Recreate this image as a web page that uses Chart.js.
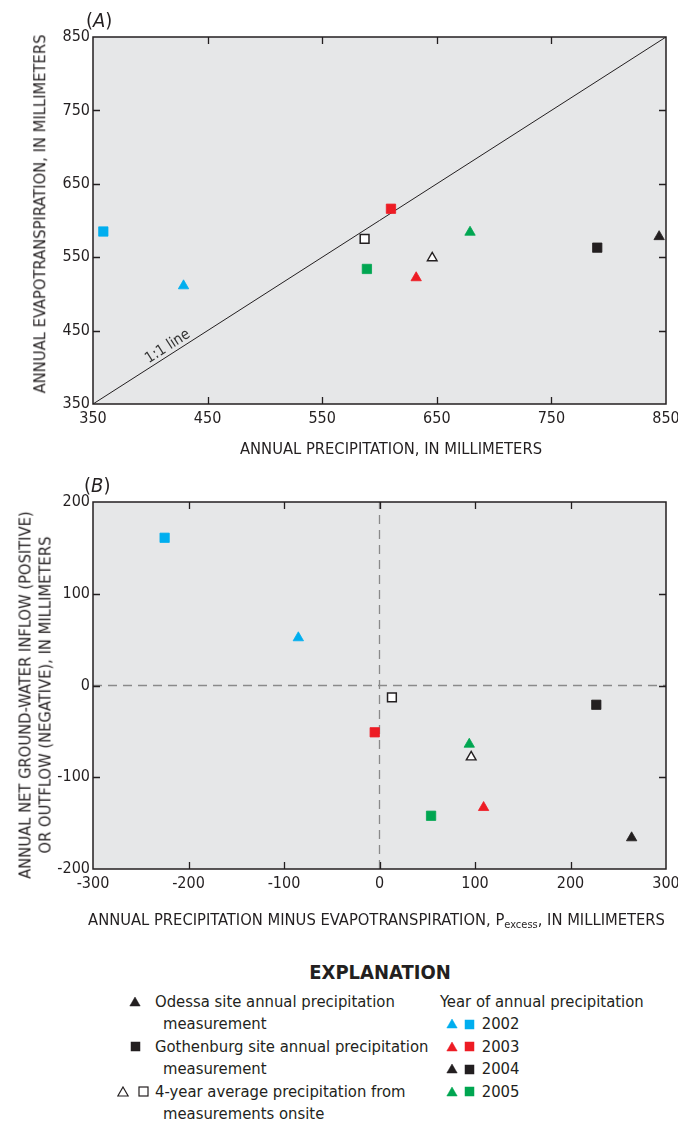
<!DOCTYPE html>
<html><head><meta charset="utf-8">
<script src="https://cdn.jsdelivr.net/npm/chart.js@4.4.1/dist/chart.umd.min.js"></script>
<style>
html,body{margin:0;padding:0;background:#fff;}
#wrap{position:relative;width:678px;height:1124px;overflow:hidden;font-family:'Liberation Sans Narrow','DejaVu Sans Condensed',Roboto,sans-serif;color:#231f20;}
canvas{position:absolute;left:0;}
.t{position:absolute;white-space:nowrap;font-size:16.5px;line-height:22px;}
.ax{position:absolute;white-space:nowrap;font-size:16.4px;line-height:19.5px;transform:translate(-50%,-50%);text-align:center;}
.axv{transform:translate(-50%,-50%) rotate(-90deg);}
.m{position:absolute;}
</style></head><body><div id="wrap">
<canvas id="cA" width="678" height="460" style="top:0px;width:678px;height:460px"></canvas>
<canvas id="cB" width="678" height="480" style="top:460px;width:678px;height:480px"></canvas>
<div class="t" style="left:86px;top:8px;font-size:20px;line-height:24px">(<i>A</i>)</div>
<div class="t" style="left:84px;top:473px;font-size:20px;line-height:24px">(<i>B</i>)</div>
<div class="ax" style="left:391px;top:448.5px">ANNUAL PRECIPITATION, IN MILLIMETERS</div>
<div class="ax axv" style="left:40px;top:213.5px">ANNUAL EVAPOTRANSPIRATION, IN MILLIMETERS</div>
<div class="ax axv" style="left:35px;top:695px">ANNUAL NET GROUND-WATER INFLOW (POSITIVE)<br>OR OUTFLOW (NEGATIVE), IN MILLIMETERS</div>
<div class="ax" style="left:376.5px;top:922px">ANNUAL PRECIPITATION MINUS EVAPOTRANSPIRATION, P<sub style="font-size:11px;vertical-align:-3px">excess</sub>, IN MILLIMETERS</div>
<div id="legend"></div>
</div>
<script>
// ---------------- DATA ----------------
const years = ['2002', '2003', '2004', '2005'];
// Panel A: annual precipitation (x) vs annual evapotranspiration (y), mm
const odessaPrecip = [429, 632, 844, 679];
const odessaET = [511, 522, 578, 584];
const gothenburgPrecip = [359, 610, 790, 589];
const gothenburgET = [585, 616, 563, 534];
const avgOdessaA = [646, 549];      // [precip, ET]
const avgGothenburgA = [587, 575];  // [precip, ET]
const oneToOne = [350, 850];
// Panel B: Pexcess (x) vs net ground-water inflow/outflow (y), mm
const odessaPexcess = [-85, 109, 264, 94];
const odessaGW = [52, -133, -166, -64];
const gothenburgPexcess = [-225, -5, 227, 54];
const gothenburgGW = [161, -51, -21, -142];
const avgOdessaB = [96, -78];
const avgGothenburgB = [13, -13];
// Axis tick values
const ticksA = [350, 450, 550, 650, 750, 850];
const ticksBx = [-300, -200, -100, 0, 100, 200, 300];
const ticksBy = [-200, -100, 0, 100, 200];

// ---------------- STYLE ----------------
const yearColors = ['#00aeef', '#ed1c24', '#231f20', '#00a651'];
const FONT = "'Liberation Sans Narrow','DejaVu Sans Condensed',Roboto,sans-serif";
const INK = '#231f20';

const pts = (xs, ys) => xs.map((v, i) => ({x: v, y: ys[i]}));

const framePlugin = {
  id: 'frame',
  beforeDraw(chart) {
    const {ctx, chartArea: a} = chart;
    ctx.save();
    ctx.fillStyle = '#e6e7e8';
    ctx.fillRect(a.left, a.top, a.right - a.left, a.bottom - a.top);
    ctx.restore();
  },
  afterDraw(chart) {
    const {ctx, chartArea: a, scales: {x, y}} = chart;
    ctx.save();
    ctx.strokeStyle = INK;
    ctx.lineWidth = 1.3;
    ctx.beginPath();
    const L = 7;
    x.ticks.forEach(t => {
      const p = Math.round(x.getPixelForValue(t.value)) + 0.5;
      if (p <= a.left + 1 || p >= a.right - 1) return;
      ctx.moveTo(p, a.top); ctx.lineTo(p, a.top + L);
      ctx.moveTo(p, a.bottom); ctx.lineTo(p, a.bottom - L);
    });
    y.ticks.forEach(t => {
      const p = Math.round(y.getPixelForValue(t.value)) + 0.5;
      if (p <= a.top + 1 || p >= a.bottom - 1) return;
      ctx.moveTo(a.left, p); ctx.lineTo(a.left + L, p);
      ctx.moveTo(a.right, p); ctx.lineTo(a.right - L, p);
    });
    ctx.stroke();
    ctx.lineWidth = 1.5;
    ctx.strokeRect(a.left, a.top, a.right - a.left, a.bottom - a.top);
    const lab = chart.options.plugins.frame && chart.options.plugins.frame.lineLabel;
    if (lab) {
      const x1 = x.getPixelForValue(oneToOne[0]), y1 = y.getPixelForValue(oneToOne[0]);
      const x2 = x.getPixelForValue(oneToOne[1]), y2 = y.getPixelForValue(oneToOne[1]);
      const ang = Math.atan2(y2 - y1, x2 - x1);
      const px = x.getPixelForValue(lab.at), py = y.getPixelForValue(lab.at);
      ctx.translate(px + Math.sin(ang) * lab.off, py - Math.cos(ang) * lab.off);
      ctx.rotate(ang);
      ctx.fillStyle = '#333';
      ctx.font = '15px ' + FONT;
      ctx.textAlign = 'center';
      ctx.textBaseline = 'middle';
      ctx.fillText(lab.text, 0, 0);
    }
    ctx.restore();
  }
};

function baseScale(min, max, vals, axis, fitSize) {
  return {
    type: 'linear', min, max,
    afterBuildTicks: sc => { sc.ticks = vals.map(v => ({value: v})); },
    ticks: Object.assign({callback: v => v, color: INK, font: {family: FONT, size: 16}},
      axis === 'x' ? {padding: 5, maxRotation: 0} : {padding: 3}),
    grid: {display: false, drawTicks: false},
    border: {display: false},
    afterFit: sc => {
      if (axis === 'x') { sc.height = fitSize; sc.paddingLeft = 0; sc.paddingRight = 0; }
      else { sc.width = fitSize; sc.paddingTop = 0; sc.paddingBottom = 0; }
    }
  };
}

function markerSets(xsO, ysO, xsG, ysG, avgO, avgG) {
  return [
    {label: 'Odessa', data: pts(xsO, ysO), pointStyle: 'triangle', pointRadius: 6,
     pointBackgroundColor: yearColors, pointBorderColor: yearColors, pointBorderWidth: 0.8, order: 0},
    {label: 'Gothenburg', data: pts(xsG, ysG), pointStyle: 'rect', pointRadius: 6.6,
     pointBackgroundColor: yearColors, pointBorderColor: yearColors, pointBorderWidth: 0.8, order: 0},
    {label: 'Avg Odessa', data: [{x: avgO[0], y: avgO[1]}], pointStyle: 'triangle', pointRadius: 5.6,
     pointBackgroundColor: '#ffffff', pointBorderColor: INK, pointBorderWidth: 1.4, order: 0},
    {label: 'Avg Gothenburg', data: [{x: avgG[0], y: avgG[1]}], pointStyle: 'rect', pointRadius: 6.2,
     pointBackgroundColor: '#ffffff', pointBorderColor: INK, pointBorderWidth: 1.5, order: 0},
  ];
}

const common = {
  responsive: false, animation: false, devicePixelRatio: 1,
  plugins: {legend: {display: false}, tooltip: {enabled: false}},
};

new Chart(document.getElementById('cA'), {
  type: 'scatter',
  data: {datasets: [
    ...markerSets(odessaPrecip, odessaET, gothenburgPrecip, gothenburgET, avgOdessaA, avgGothenburgA),
    {label: '1:1 line', data: pts(oneToOne, oneToOne), showLine: true, pointRadius: 0,
     borderColor: INK, borderWidth: 1, order: 10}
  ]},
  options: Object.assign({}, common, {
    layout: {padding: {left: 0, right: 12, top: 37, bottom: 0}},
    plugins: Object.assign({}, common.plugins, {frame: {lineLabel: {text: '1:1 line', at: 419, off: 8}}}),
    scales: {
      x: baseScale(350, 850, ticksA, 'x', 56),
      y: baseScale(350, 850, ticksA, 'y', 93)
    }
  }),
  plugins: [framePlugin]
});

new Chart(document.getElementById('cB'), {
  type: 'scatter',
  data: {datasets: [
    ...markerSets(odessaPexcess, odessaGW, gothenburgPexcess, gothenburgGW, avgOdessaB, avgGothenburgB),
    {label: 'zero x', data: [{x: 0, y: ticksBy[0]}, {x: 0, y: ticksBy[ticksBy.length - 1]}], showLine: true,
     pointRadius: 0, borderColor: '#8a8a8a', borderWidth: 1.3, borderDash: [9, 6], order: 10},
    {label: 'zero y', data: [{x: ticksBx[0], y: 0}, {x: ticksBx[ticksBx.length - 1], y: 0}], showLine: true,
     pointRadius: 0, borderColor: '#8a8a8a', borderWidth: 1.3, borderDash: [9, 6], order: 10}
  ]},
  options: Object.assign({}, common, {
    layout: {padding: {left: 0, right: 12, top: 42, bottom: 0}},
    scales: {
      x: baseScale(-300, 300, ticksBx, 'x', 71),
      y: baseScale(-200, 200, ticksBy, 'y', 93)
    }
  }),
  plugins: [framePlugin]
});

// ---------------- EXPLANATION ----------------
const lg = document.getElementById('legend');
function tri(cx, cy, fill, stroke) {
  const s = document.createElementNS('http://www.w3.org/2000/svg', 'svg');
  s.setAttribute('width', 12); s.setAttribute('height', 11);
  s.setAttribute('class', 'm');
  s.style.left = (cx - 6) + 'px'; s.style.top = (cy - 6) + 'px';
  s.innerHTML = `<polygon points="6,1 11.2,10 0.8,10" fill="${fill}" stroke="${stroke || fill}" stroke-width="${stroke ? 1.2 : 0.5}"/>`;
  lg.appendChild(s);
}
function sq(cx, cy, fill, stroke) {
  const s = document.createElementNS('http://www.w3.org/2000/svg', 'svg');
  s.setAttribute('width', 11); s.setAttribute('height', 11);
  s.setAttribute('class', 'm');
  s.style.left = (cx - 5.5) + 'px'; s.style.top = (cy - 5.5) + 'px';
  s.innerHTML = `<rect x="1" y="1" width="9" height="9" fill="${fill}" stroke="${stroke || fill}" stroke-width="${stroke ? 1.2 : 0.5}"/>`;
  lg.appendChild(s);
}
function txt(x, cy, s, style) {
  const d = document.createElement('div');
  d.className = 't';
  d.style.left = x + 'px'; d.style.top = (cy - 11) + 'px';
  if (style) d.style.cssText += style;
  d.textContent = s;
  lg.appendChild(d);
}
txt(280, 972, 'EXPLANATION', 'width:200px;text-align:center;font-weight:bold;font-size:20px;line-height:28px;top:958px;');
const rows = [1001.7, 1024.3, 1046.7, 1069, 1091.7, 1114];
tri(135, rows[0], INK); txt(155, rows[0], 'Odessa site annual precipitation');
txt(163, rows[1], 'measurement');
sq(135, rows[2], INK); txt(155, rows[2], 'Gothenburg site annual precipitation');
txt(163, rows[3], 'measurement');
tri(123, rows[4], '#fff', INK); sq(143, rows[4], '#fff', INK); txt(155, rows[4], '4-year average precipitation from');
txt(163, rows[5], 'measurements onsite');
txt(440, rows[0], 'Year of annual precipitation');
years.forEach((yr, i) => {
  tri(451.7, rows[i + 1], yearColors[i]);
  sq(469, rows[i + 1], yearColors[i]);
  txt(481.7, rows[i + 1], yr);
});
</script>
</body></html>
